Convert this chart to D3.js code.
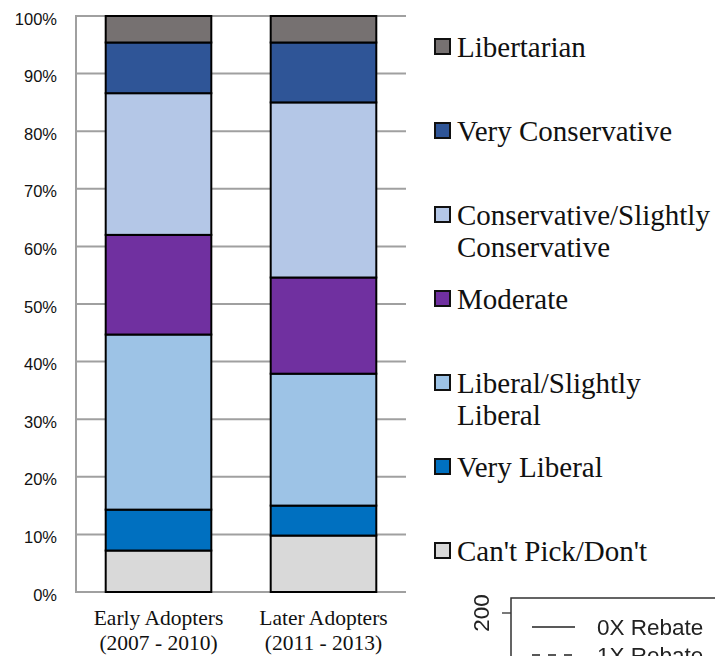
<!DOCTYPE html>
<html>
<head>
<meta charset="utf-8">
<script src="https://cdn.jsdelivr.net/npm/d3@7"></script>
<style>
  html, body { margin: 0; padding: 0; background: #fff; }
  svg { display: block; }
</style>
</head>
<body>
<svg id="chart" width="715" height="656"></svg>
<script>
// Political self-identification of early vs. later adopters (share of respondents)
const groups = ["Early Adopters|(2007 - 2010)", "Later Adopters|(2011 - 2013)"];
const seriesNames = [
  "Can't Pick/Don't",
  "Very Liberal",
  "Liberal/Slightly Liberal",
  "Moderate",
  "Conservative/Slightly Conservative",
  "Very Conservative",
  "Libertarian"
];
const seriesColors = ["#d9d9d9", "#0070c0", "#9dc3e6", "#7030a0", "#b4c7e7", "#2f5597", "#767171"];
const earlyValues = [0.072, 0.071, 0.304, 0.173, 0.246, 0.088, 0.046];
const laterValues = [0.098, 0.052, 0.229, 0.167, 0.304, 0.104, 0.046];
const yTicks = [0, 0.1, 0.2, 0.3, 0.4, 0.5, 0.6, 0.7, 0.8, 0.9, 1.0];
// legend wraps long names onto two lines
const legendLines = {
  "Conservative/Slightly Conservative": ["Conservative/Slightly", "Conservative"],
  "Liberal/Slightly Liberal": ["Liberal/Slightly", "Liberal"]
};

// second figure fragment below the legend
const rebateLabels = ["0X Rebate", "1X Rebate"];
const rebateDash = [null, "8,8"];
const rebateAxisTicks = [200];

const svg = d3.select("#chart");

const rows = groups.map((g, i) => {
  const r = { group: g };
  seriesNames.forEach((s, j) => { r[s] = (i === 0 ? earlyValues : laterValues)[j]; });
  return r;
});
const stacked = d3.stack().keys(seriesNames)(rows);

const plotLeft = 76, plotRight = 406, plotTop = 16, plotBottom = 592;
const y = d3.scaleLinear().domain([0, 1]).range([plotBottom, plotTop]);
const x = d3.scaleBand().domain(groups).range([plotLeft, plotRight])
  .paddingInner(0.36).paddingOuter(0.18);

// gridlines
svg.append("g")
  .selectAll("line").data(yTicks).join("line")
  .attr("x1", plotLeft).attr("x2", plotRight)
  .attr("y1", d => y(d)).attr("y2", d => y(d))
  .attr("stroke", "#a0a0a0").attr("stroke-width", 2);

// y axis line
svg.append("line")
  .attr("x1", plotLeft).attr("x2", plotLeft)
  .attr("y1", y(1) - 1).attr("y2", y(0) + 1)
  .attr("stroke", "#a0a0a0").attr("stroke-width", 2);

// y tick labels
svg.append("g")
  .selectAll("text").data(yTicks).join("text")
  .attr("x", 57).attr("y", d => y(d) + 8.5)
  .attr("text-anchor", "end")
  .attr("font-family", "Liberation Sans, Arial, sans-serif")
  .attr("font-size", 16.5)
  .attr("fill", "#111")
  .text(d => d3.format(".0%")(d));

// stacked bars
svg.append("g")
  .selectAll("g").data(stacked).join("g")
  .attr("fill", (d, i) => seriesColors[i])
  .selectAll("rect").data(d => d).join("rect")
  .attr("x", d => x(d.data.group))
  .attr("width", x.bandwidth())
  .attr("y", d => y(d[1]))
  .attr("height", d => y(d[0]) - y(d[1]))
  .attr("stroke", "#000").attr("stroke-width", 2);

// category labels
const cat = svg.append("g")
  .selectAll("text").data(groups).join("text")
  .attr("text-anchor", "middle")
  .attr("font-family", "Liberation Serif, Times New Roman, serif")
  .attr("font-size", 21.5)
  .attr("fill", "#111");
cat.selectAll("tspan").data(d => d.split("|").map(t => ({ t, g: d }))).join("tspan")
  .attr("x", d => x(d.g) + x.bandwidth() / 2)
  .attr("y", (d, i) => 625 + i * 25)
  .text(d => d.t);

// legend (top entry is the top of the stack)
const legendOrder = seriesNames.map((s, i) => ({ name: s, color: seriesColors[i] })).reverse();
const leg = svg.append("g")
  .selectAll("g").data(legendOrder).join("g")
  .attr("transform", (d, i) => `translate(0,${57 + i * 84})`);
leg.append("rect")
  .attr("x", 435).attr("y", -18).attr("width", 15).attr("height", 15)
  .attr("fill", d => d.color).attr("stroke", "#111").attr("stroke-width", 2);
leg.append("text")
  .attr("font-family", "Liberation Serif, Times New Roman, serif")
  .attr("font-size", 29)
  .attr("fill", "#111")
  .selectAll("tspan").data(d => legendLines[d.name] || [d.name]).join("tspan")
  .attr("x", 457).attr("y", (d, i) => i * 32)
  .text(d => d);

// fragment of an adjacent figure
const defs = svg.append("defs");
defs.append("filter").attr("id", "soft")
  .append("feGaussianBlur").attr("stdDeviation", 0.55);
const frag = svg.append("g").attr("filter", "url(#soft)");
const fy = d3.scaleLinear().domain([200, 100]).range([613, 900]);
frag.append("rect")
  .attr("x", 511).attr("y", 598).attr("width", 300).attr("height", 200)
  .attr("fill", "none").attr("stroke", "#333").attr("stroke-width", 1.5);
frag.selectAll("line.tick").data(rebateAxisTicks).join("line")
  .attr("class", "tick")
  .attr("x1", 502).attr("x2", 511)
  .attr("y1", d => fy(d)).attr("y2", d => fy(d))
  .attr("stroke", "#333").attr("stroke-width", 1.3);
frag.selectAll("text.tick").data(rebateAxisTicks).join("text")
  .attr("class", "tick")
  .attr("transform", d => `translate(489,${fy(d)}) rotate(-90)`)
  .attr("text-anchor", "middle")
  .attr("font-family", "Liberation Sans, Arial, sans-serif")
  .attr("font-size", 22.5)
  .attr("fill", "#222")
  .text(d => d);
const fl = frag.selectAll("g.key").data(rebateLabels).join("g")
  .attr("class", "key")
  .attr("transform", (d, i) => `translate(0,${627 + i * 28})`);
fl.append("line")
  .attr("x1", 532).attr("x2", 575).attr("y1", 0).attr("y2", 0)
  .attr("stroke", "#222").attr("stroke-width", 1.6)
  .attr("stroke-dasharray", (d, i) => rebateDash[i]);
fl.append("text")
  .attr("x", 597).attr("y", 8)
  .attr("font-family", "Liberation Sans, Arial, sans-serif")
  .attr("font-size", 22.5)
  .attr("fill", "#222")
  .text(d => d);
</script>
</body>
</html>
